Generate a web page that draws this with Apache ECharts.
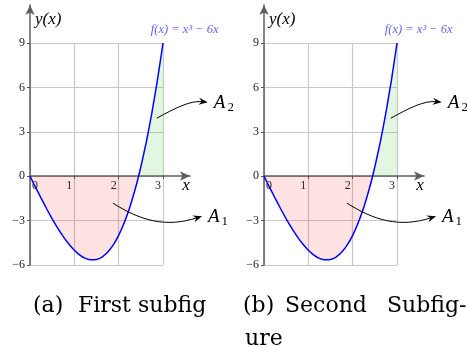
<!DOCTYPE html>
<html>
<head>
<meta charset="utf-8">
<script src="https://cdn.jsdelivr.net/npm/echarts@6/dist/echarts.min.js"></script>
<style>
  html, body { margin: 0; padding: 0; background: #fff; }
  #main { width: 467px; height: 347px; }
</style>
</head>
<body>
<div id="main"></div>
<script>
// f(x) = x^3 - 6x
var curveX = [0, 0.125, 0.25, 0.375, 0.5, 0.625, 0.75, 0.875, 1, 1.125, 1.25, 1.375, 1.5,
    1.625, 1.75, 1.875, 2, 2.125, 2.25, 2.375, 2.4495, 2.5, 2.625, 2.75, 2.875, 3];
var curveY = [0, -0.75, -1.48, -2.2, -2.88, -3.51, -4.08, -4.58, -5, -5.33, -5.55, -5.65, -5.63,
    -5.46, -5.14, -4.66, -4, -3.15, -2.11, -0.85, 0, 0.63, 2.34, 4.3, 6.51, 9];
var xTicks = [0, 1, 2, 3];
var xTickLabels = ['0', '1', '2', '3'];
var yTickLabels = ['−6', '−3', '0', '3', '6', '9'];
var funcLabel = 'f(x) = x³ − 6x';
var areaNames = ['A1', 'A2'];
var captions = [
    [['(a)', 33, 306], ['First subfig', 78, 306]],
    [['(b)', 243, 306], ['Second', 285, 306], ['Subfig-', 387, 306], ['ure', 245, 339]]
];

var myChart = echarts.init(document.getElementById('main'));

var serif = 'Liberation Serif';
var pts = curveX.map(function (x, i) { return [x, curveY[i]]; });
var neg = pts.filter(function (p) { return p[1] <= 0; });
var pos = pts.filter(function (p) { return p[0] >= 2.4495; });

// arrow anchors in data units: start, ctrl1, ctrl2, end
var arrows = [
    [1.87, -1.82, 2.48, -2.97, 3.05, -3.51, 3.88, -2.70],
    [2.86, 3.92, 3.27, 4.59, 3.61, 5.13, 4.01, 5.0]
];

function renderArrow(params, api) {
    var p0 = api.coord([api.value(0), api.value(1)]);
    var p1 = api.coord([api.value(2), api.value(3)]);
    var p2 = api.coord([api.value(4), api.value(5)]);
    var p3 = api.coord([api.value(6), api.value(7)]);
    var dx = p3[0] - p2[0], dy = p3[1] - p2[1];
    var d = Math.sqrt(dx * dx + dy * dy);
    dx /= d; dy /= d;
    var L = 9, W = 3.6, N = 6;
    var head = [
        p3,
        [p3[0] - dx * L - dy * W, p3[1] - dy * L + dx * W],
        [p3[0] - dx * N, p3[1] - dy * N],
        [p3[0] - dx * L + dy * W, p3[1] - dy * L - dx * W]
    ];
    var name = areaNames[params.dataIndex];
    return {
        type: 'group',
        children: [
            {
                type: 'bezierCurve',
                shape: { x1: p0[0], y1: p0[1], cpx1: p1[0], cpy1: p1[1], cpx2: p2[0], cpy2: p2[1], x2: p3[0] - dx * 5, y2: p3[1] - dy * 5 },
                style: { stroke: '#000', lineWidth: 1, fill: null }
            },
            { type: 'polygon', shape: { points: head }, style: { fill: '#000' } },
            {
                type: 'text',
                style: {
                    x: p3[0] + 6, y: p3[1] + 1,
                    text: '{a|' + name[0] + '}{s|' + name[1] + '}',
                    verticalAlign: 'middle',
                    rich: {
                        a: { fontFamily: serif, fontStyle: 'italic', fontSize: 19, fill: '#000' },
                        s: { fontFamily: serif, fontSize: 13, fill: '#000', verticalAlign: 'bottom', padding: [9, 0, 0, 2] }
                    }
                }
            }
        ]
    };
}

var axisColor = '#5e5e5e';
var grids = [], xAxes = [], yAxes = [], series = [], graphics = [];
[0, 234].forEach(function (ox, k) {
    // A: data frame, B: arrowed y axis, C: arrowed x axis sitting on y = 0
    grids.push({ left: ox + 30, top: 43, width: 133, height: 222, outerBoundsMode: 'none' });
    grids.push({ left: ox + 30, top: 5, width: 160, height: 260, outerBoundsMode: 'none' });
    grids.push({ left: ox + 30, top: 43, width: 160, height: 133, outerBoundsMode: 'none' });
    var gA = 3 * k, gB = 3 * k + 1, gC = 3 * k + 2;
    var xmaxB = 160 / (133 / 3);

    xAxes.push({
        gridIndex: gA, type: 'value', min: 0, max: 3, interval: 1,
        axisLine: { show: false }, axisTick: { show: false }, axisLabel: { show: false },
        splitLine: { show: true, lineStyle: { color: '#c8c8c8', width: 1.2 } }
    });
    yAxes.push({
        gridIndex: gA, type: 'value', min: -6, max: 9, interval: 3,
        axisLine: { show: false },
        axisTick: { show: true, length: 3, lineStyle: { color: '#555' } },
        axisLabel: {
            margin: 5, fontFamily: serif, fontSize: 12, color: '#222',
            formatter: function (v) { return yTickLabels[(v + 6) / 3]; }
        },
        splitLine: { show: true, lineStyle: { color: '#c8c8c8', width: 1.2 } }
    });

    xAxes.push({
        gridIndex: gB, type: 'value', min: 0, max: xmaxB, show: false
    });
    yAxes.push({
        gridIndex: gB, type: 'value', min: -6, max: -6 + 260 / (222 / 15),
        name: 'y(x)', nameLocation: 'end', nameGap: -6,
        nameTextStyle: { fontFamily: serif, fontStyle: 'italic', fontSize: 17, color: '#000', align: 'left', verticalAlign: 'top', padding: [0, 0, 0, 5] },
        axisLine: { show: true, onZero: false, symbol: ['none', 'arrow'], symbolSize: [7, 10], lineStyle: { color: axisColor, width: 1.5 } },
        axisTick: { show: false }, axisLabel: { show: false }, splitLine: { show: false }
    });

    xAxes.push({
        gridIndex: gC, type: 'value', min: 0, max: xmaxB, position: 'bottom',
        name: 'x', nameLocation: 'end', nameGap: -4,
        nameTextStyle: { fontFamily: serif, fontStyle: 'italic', fontSize: 17, color: '#000', align: 'center', verticalAlign: 'top', padding: [1, 0, 0, 0] },
        axisLine: { show: true, onZero: false, symbol: ['none', 'arrow'], symbolSize: [7, 10], lineStyle: { color: axisColor, width: 1.5 } },
        axisTick: { show: true, length: 3, customValues: xTicks.slice(1), lineStyle: { color: '#555' } },
        axisLabel: {
            show: true, margin: 4, customValues: xTicks,
            formatter: function (v) { return v === 0 ? '{z|0}' : '{n|' + xTickLabels[v] + '}'; },
            rich: {
                z: { fontFamily: serif, fontSize: 12, color: '#222', padding: [0, 0, 0, 10] },
                n: { fontFamily: serif, fontSize: 12, color: '#222', padding: [0, 10, 0, 0] }
            }
        },
        splitLine: { show: false }
    });
    yAxes.push({
        gridIndex: gC, type: 'value', min: 0, max: 9, show: false
    });

    series.push({
        type: 'line', xAxisIndex: gA, yAxisIndex: gA, data: neg, smooth: 0.2, symbol: 'none',
        lineStyle: { width: 0 }, areaStyle: { color: 'rgba(255,0,0,0.16)', origin: 0 }, z: 1
    });
    series.push({
        type: 'line', xAxisIndex: gA, yAxisIndex: gA, data: pos, smooth: 0.2, symbol: 'none',
        lineStyle: { width: 0 }, areaStyle: { color: 'rgba(0,175,0,0.16)', origin: 0 }, z: 1
    });
    series.push({
        type: 'line', xAxisIndex: gA, yAxisIndex: gA, data: pts, smooth: 0.2, symbol: 'none',
        lineStyle: { color: '#0000ff', width: 1.5 }, z: 3
    });
    series.push({
        type: 'scatter', xAxisIndex: gB, yAxisIndex: gB, data: [[3.49, 9.93]], symbolSize: 0,
        label: { show: true, position: 'inside', formatter: funcLabel, fontFamily: serif, fontStyle: 'italic', fontSize: 12.5, color: '#3a3aff' },
        silent: true
    });
    series.push({
        type: 'custom', xAxisIndex: gB, yAxisIndex: gB, data: arrows, clip: false,
        encode: { x: [0, 2, 4, 6], y: [1, 3, 5, 7] },
        renderItem: renderArrow, silent: true, z: 5
    });
    captions[k].forEach(function (c) {
        graphics.push({ type: 'text', x: c[1], y: c[2], style: { text: c[0], fontFamily: 'DejaVu Serif', fontSize: 22, fill: '#000', verticalAlign: 'middle' } });
    });
});

option = {
    animation: false,
    grid: grids,
    xAxis: xAxes,
    yAxis: yAxes,
    series: series,
    graphic: graphics
};
myChart.setOption(option);
</script>
</body>
</html>
